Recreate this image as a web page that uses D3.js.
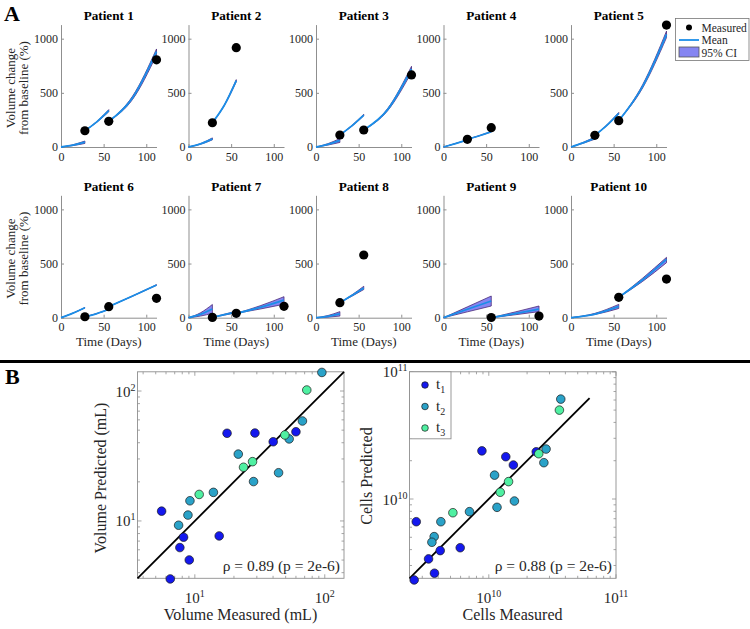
<!DOCTYPE html>
<html><head><meta charset="utf-8">
<script src="https://cdn.jsdelivr.net/npm/d3@7"></script>
<style>
body{margin:0;background:#fff}
svg{display:block}
text{font-family:"Liberation Serif","Times New Roman",serif}
</style>
</head><body>
<svg id="c" width="750" height="629"></svg>
<script>
// ---------------- Panel A data ----------------
const patientNames = ["Patient 1","Patient 2","Patient 3","Patient 4","Patient 5","Patient 6","Patient 7","Patient 8","Patient 9","Patient 10"];
const measDays = [[28,56,112],[28,56],[28,56,112],[28,56],[28,56,112],[28,56,112],[28,56,112],[28,56],[56,112],[56,112]];
const measVals = [[150,237,805],[224,917],[111,157,665],[71,178],[108,243,1126],[9,102,179],[3,40,105],[139,579],[2,15],[188,357]];
// model segments: values at segment start, middle, end
const meanVals = [
  [[0,17,45],[150,232,335],[237,455,880]],
  [[0,28,75],[224,385,612]],
  [[0,25,62],[111,195,295],[157,345,720]],
  [[0,32,65],[71,104,141]],
  [[0,38,82],[108,200,311],[243,560,1040]],
  [[0,42,92],[9,38,78],[102,200,302]],
  [[0,30,80],[3,28,52],[40,95,163]],
  [[0,12,35],[139,205,275]],
  [[0,78,154],[0,38,80]],
  [[0,33,105],[188,350,539]]
];
const loVals = [
  [[0,13,33],[150,228,325],[237,440,850]],
  [[0,25,66],[224,381,602]],
  [[0,18,42],[111,191,288],[157,335,690]],
  [[0,31,63],[71,102,138]],
  [[0,34,72],[108,196,303],[243,545,1010]],
  [[0,41,90],[9,37,76],[102,198,299]],
  [[0,15,40],[3,24,45],[40,80,124]],
  [[0,5,15],[139,198,260]],
  [[0,54,108],[0,27,56]],
  [[0,29,85],[188,335,508]]
];
const hiVals = [
  [[0,21,55],[150,236,345],[237,470,905]],
  [[0,31,84],[224,389,622]],
  [[0,31,78],[111,199,302],[157,355,745]],
  [[0,33,67],[71,106,144]],
  [[0,42,92],[108,204,319],[243,575,1070]],
  [[0,43,94],[9,39,80],[102,202,305]],
  [[0,45,122],[3,32,60],[40,110,194]],
  [[0,20,56],[139,210,290]],
  [[0,100,200],[0,53,108]],
  [[0,40,123],[188,365,557]]
];
const xTicksA = [0,50,100];
const yTicksA = [0,500,1000];
const legendA = ["Measured","Mean","95% CI"];

// ---------------- Panel B data ----------------
const timepointNames = ["1","2","3"];
const volMeasured  = [60,40.1,29,17.7,5.55,8.19,15.4,7.67,9.06,6.47, 95,67.3,53.2,21.6,44.1,28.3,13.9,9.17,8.85,7.5, 72.7,49.3,27.8,23.7,10.8];
const volPredicted = [48.6,40.7,47.5,47.3,11.9,7.5,7.67,6.24,5.01,3.58, 139,58.8,42.8,32.7,23.5,20.1,16.6,14.3,11.1,9.27, 101.8,45.9,28.6,25.9,16.0];
const volTimepoint = [1,1,1,1,1,1,1,1,1,1, 2,2,2,2,2,2,2,2,2,2, 3,3,3,3,3];
const cellMeasured  = [8.83e9,1.36e10,1.56e10,2.36e10,2.69e9,4.15e9,5.96e9,3.36e9,3.74e9,2.59e9, 3.68e10,2.82e10,2.71e10,1.11e10,1.59e10,1.16e10,7.05e9,4.2e9,3.72e9,3.57e9, 3.59e10,2.47e10,1.43e10,1.23e10,5.22e9];
const cellPredicted = [2.39e10,2.15e10,1.85e10,2.35e10,6.63e9,3.93e9,4.14e9,3.38e9,2.61e9,2.31e9, 6.1e10,2.47e10,1.93e10,1.54e10,9.64e9,8.6e9,7.95e9,6.63e9,5.06e9,4.57e9, 5.0e10,2.27e10,1.37e10,1.13e10,7.8e9];
const cellTimepoint = [1,1,1,1,1,1,1,1,1,1, 2,2,2,2,2,2,2,2,2,2, 3,3,3,3,3];
const volDomain = [3.62,140.6];
const cellDomain = [2.38e9,1.0e11];
const volFitLine = [3.62,140.6];
const cellFitLine = [2.38e9,6.2e10];
const volTicks = [10,100];
const cellTicks = [1e10,1e11];
const rhoLabels = ["\u03c1 = 0.89 (p = 2e-6)","\u03c1 = 0.88 (p = 2e-6)"];

// ---------------- Styles ----------------
const AX = "#8f8f8f", TXT = "#262626";
const SERIF = "'Liberation Serif','Times New Roman',serif";
const MEAN_C = "#1b8ee8", CI_FILL = "#8585f2", CI_EDGE = "#4b2a78";
const tpColor = d3.scaleOrdinal().domain([1,2,3]).range(["#1418ee","#2aa2c8","#4ff0a2"]);

const svg = d3.select("#c");

// Panel letters & separator
svg.append("text").attr("x",4).attr("y",21).attr("font-size",22).attr("font-weight","bold").text("A");
svg.append("text").attr("x",5).attr("y",384).attr("font-size",22).attr("font-weight","bold").text("B");
svg.append("line").attr("x1",0).attr("x2",750).attr("y1",361.5).attr("y2",361.5).attr("stroke","#000").attr("stroke-width",3);

// ---------------- Panel A ----------------
patientNames.forEach((name,i)=>{
  const row = Math.floor(i/5), col = i%5;
  const x0 = 61 + 127.5*col;
  const yb = row===0 ? 147 : 317.7;
  const xS = d3.scaleLinear().domain([0,112]).range([x0, x0+95.5]);
  const yS = d3.scaleLinear().domain([0,1130]).range([yb, yb-122.4]);
  const g = svg.append("g");

  const xa = g.append("g").attr("transform",`translate(0,${yb})`)
    .call(d3.axisBottom(xS).tickValues(xTicksA).tickFormat(d3.format("d")).tickSize(-3).tickSizeOuter(0).tickPadding(5));
  const ya = g.append("g").attr("transform",`translate(${x0},0)`)
    .call(d3.axisLeft(yS).tickValues(yTicksA).tickFormat(d3.format("d")).tickSize(-3).tickSizeOuter(0).tickPadding(3));
  [xa,ya].forEach(a=>{
    a.attr("font-family",null).attr("font-size",null);
    a.selectAll("path,line").attr("stroke",AX).attr("stroke-width",1);
    a.selectAll("text").attr("font-size",12).attr("fill",TXT).style("font-family",SERIF);
  });

  // title
  g.append("text").attr("x",x0+47.75).attr("y",row===0?20:190.5).attr("text-anchor","middle")
    .attr("font-size",13.2).attr("font-weight","bold").text(name);
  if(row===1){
    g.append("text").attr("x",x0+47.75).attr("y",346).attr("text-anchor","middle")
      .attr("font-size",13).attr("fill",TXT).text("Time (Days)");
  }
  if(col===0){
    const cy = row===0 ? 88 : 258.7;
    g.append("text").attr("transform",`translate(15,${cy}) rotate(-90)`).attr("text-anchor","middle")
      .attr("font-size",13).attr("fill",TXT).text("Volume change");
    g.append("text").attr("transform",`translate(28,${cy}) rotate(-90)`).attr("text-anchor","middle")
      .attr("font-size",13).attr("fill",TXT).text("from baseline (%)");
  }

  const area = d3.area().x(d=>xS(d.t)).y0(d=>yS(d.lo)).y1(d=>yS(d.hi)).curve(d3.curveMonotoneX);
  const line = d3.line().x(d=>xS(d.t)).y(d=>yS(d.m)).curve(d3.curveMonotoneX);
  measDays[i].forEach((d,k)=>{
    const t0 = k===0 ? 0 : measDays[i][k-1];
    const days = [t0,(t0+d)/2,d];
    const pts = days.map((t,j)=>({t, m:meanVals[i][k][j], lo:loVals[i][k][j], hi:hiVals[i][k][j]}));
    g.append("path").datum(pts).attr("d",area).attr("fill",CI_FILL).attr("stroke",CI_EDGE).attr("stroke-width",0.8);
    g.append("path").datum(pts).attr("d",line).attr("fill","none").attr("stroke",MEAN_C).attr("stroke-width",1.8);
  });
  g.selectAll("circle.m").data(measDays[i].map((t,j)=>({t,v:measVals[i][j]}))).enter()
    .append("circle").attr("cx",d=>xS(d.t)).attr("cy",d=>yS(d.v)).attr("r",4.6).attr("fill","#000");
});

// Legend A
{
  const lg = svg.append("g");
  lg.append("rect").attr("x",675.5).attr("y",18.5).attr("width",73.5).attr("height",42).attr("fill","#fff").attr("stroke","#777").attr("stroke-width",0.8);
  lg.append("circle").attr("cx",689).attr("cy",27.5).attr("r",3).attr("fill","#000");
  lg.append("line").attr("x1",679).attr("x2",699).attr("y1",40).attr("y2",40).attr("stroke",MEAN_C).attr("stroke-width",1.8);
  lg.append("rect").attr("x",679).attr("y",47).attr("width",20).attr("height",10).attr("fill",CI_FILL).attr("stroke","#555").attr("stroke-width",0.8);
  legendA.forEach((t,j)=>{
    lg.append("text").attr("x",701.5).attr("y",31.5+j*12.5).attr("font-size",11.5).attr("fill",TXT).text(t);
  });
}

// ---------------- Panel B ----------------
function sup(sel, base, exp){
  sel.append("tspan").text(base);
  sel.append("tspan").attr("dy",-6).attr("font-size",10).text(exp);
}
function scatterPanel(o){
  const xS = d3.scaleLog().domain(o.domain).range([o.x0, o.x0+206.5]);
  const yS = d3.scaleLog().domain(o.domain).range([578.3, 371.8]);
  const g = svg.append("g");
  const [xa,xb] = xS.range(), [ya,yb] = yS.range();
  g.append("rect").attr("x",xa).attr("y",yb).attr("width",xb-xa).attr("height",ya-yb).attr("fill","#fff").attr("stroke",AX).attr("stroke-width",0.9);
  const minor = xS.ticks().filter(v=>v>=o.domain[0] && v<=o.domain[1]);
  minor.forEach(v=>{
    const isMaj = o.ticks.some(t=>Math.abs(t-v)/t<1e-6);
    const L = isMaj ? 4 : 2.5;
    const px = xS(v), py = yS(v);
    g.append("line").attr("x1",px).attr("x2",px).attr("y1",ya).attr("y2",ya-L).attr("stroke",AX).attr("stroke-width",0.8);
    g.append("line").attr("x1",px).attr("x2",px).attr("y1",yb).attr("y2",yb+L).attr("stroke",AX).attr("stroke-width",0.8);
    g.append("line").attr("y1",py).attr("y2",py).attr("x1",xa).attr("x2",xa+L).attr("stroke",AX).attr("stroke-width",0.8);
    g.append("line").attr("y1",py).attr("y2",py).attr("x1",xb).attr("x2",xb-L).attr("stroke",AX).attr("stroke-width",0.8);
  });
  o.ticks.forEach(v=>{
    const e = Math.round(Math.log10(v));
    const tx = g.append("text").attr("x",xS(v)).attr("y",602.5).attr("text-anchor","middle").attr("font-size",15).attr("fill",TXT);
    sup(tx,"10",e);
    const ty = g.append("text").attr("x",xa-2).attr("y",yS(v)+5.5).attr("text-anchor","end").attr("font-size",15).attr("fill",TXT);
    sup(ty,"10",e);
  });
  g.append("line").attr("x1",xS(o.fit[0])).attr("y1",yS(o.fit[0])).attr("x2",xS(o.fit[1])).attr("y2",yS(o.fit[1]))
    .attr("stroke","#000").attr("stroke-width",1.8);
  const pts = o.mx.map((m,i)=>({m, p:o.py[i], tp:o.tp[i]}));
  g.selectAll("circle.p").data(pts).enter().append("circle")
    .attr("cx",d=>xS(d.m)).attr("cy",d=>yS(d.p)).attr("r",4.3)
    .attr("fill",d=>tpColor(d.tp)).attr("stroke","#1a1a1a").attr("stroke-width",0.7);
  g.append("text").attr("x",xb-4).attr("y",571).attr("text-anchor","end").attr("font-size",15.5).attr("fill",TXT).text(o.rho);
  g.append("text").attr("x",xa+103).attr("y",620).attr("text-anchor","middle").attr("font-size",16).attr("fill",TXT).text(o.xlabel);
  g.append("text").attr("transform",`translate(${o.ylx},${o.lyc}) rotate(-90)`).attr("text-anchor","middle").attr("font-size",16).attr("fill",TXT).text(o.ylabel);
  return g;
}
scatterPanel({domain:volDomain, x0:137.5, ticks:volTicks, fit:volFitLine, mx:volMeasured, py:volPredicted, tp:volTimepoint,
  rho:rhoLabels[0], xlabel:"Volume Measured (mL)", ylabel:"Volume Predicted (mL)", ylx:106, lyc:478});
scatterPanel({domain:cellDomain, x0:409.5, ticks:cellTicks, fit:cellFitLine, mx:cellMeasured, py:cellPredicted, tp:cellTimepoint,
  rho:rhoLabels[1], xlabel:"Cells Measured", ylabel:"Cells Predicted", ylx:372, lyc:476});

// Legend B
{
  const lg = svg.append("g");
  lg.append("rect").attr("x",409.5).attr("y",371.8).attr("width",41.5).attr("height",67).attr("fill","#fff").attr("stroke",AX).attr("stroke-width",0.9);
  timepointNames.forEach((t,j)=>{
    const cy = 385 + j*21.5;
    lg.append("circle").attr("cx",425).attr("cy",cy).attr("r",3.3).attr("fill",tpColor(j+1)).attr("stroke","#1a1a1a").attr("stroke-width",0.7);
    const tx = lg.append("text").attr("x",436).attr("y",cy+4).attr("font-size",15).attr("fill",TXT);
    tx.append("tspan").text("t");
    tx.append("tspan").attr("dy",4).attr("font-size",10).text(t);
  });
}
</script>
</body></html>
